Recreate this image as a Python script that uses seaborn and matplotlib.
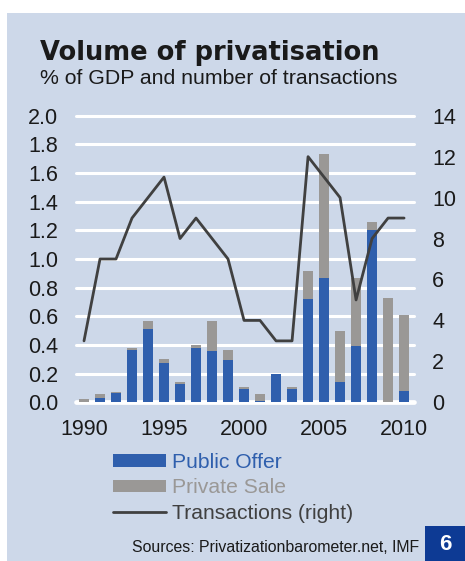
import numpy as np
import pandas as pd
import seaborn as sns
from matplotlib import pyplot as plt
from matplotlib.patches import Patch, Rectangle
from matplotlib.lines import Line2D

years = list(range(1990, 2011))
public_offer = [0.0, 0.03, 0.065, 0.365, 0.51, 0.275, 0.13, 0.38, 0.36, 0.295, 0.095,
                0.01, 0.2, 0.09, 0.72, 0.865, 0.14, 0.39, 1.205, 0.0, 0.08]
private_sale = [0.025, 0.025, 0.007, 0.015, 0.055, 0.025, 0.015, 0.02, 0.21, 0.07, 0.012,
                0.05, 0.0, 0.02, 0.195, 0.865, 0.36, 0.475, 0.05, 0.73, 0.53]
transactions = [3, 7, 7, 9, 10, 11, 8, 9, 8, 7, 4, 4, 3, 3, 12, 11, 10, 5, 8, 9, 9]

bg = '#CDD8E9'
blue = '#2F5FAD'
grey = '#9A9896'
dark = '#404040'

df = pd.DataFrame({'year': years, 'public': public_offer, 'private': private_sale,
                   'transactions': transactions})
df['total'] = df['public'] + df['private']

sns.set_style('white')
plt.rcParams['font.family'] = ['Liberation Sans', 'DejaVu Sans']

fig = plt.figure(figsize=(4.65, 5.61), dpi=100)
fig.patch.set_facecolor('white')
fig.add_artist(Rectangle((7 / 465, 0), 1, 1 - 12.7 / 561, transform=fig.transFigure,
                         facecolor=bg, edgecolor='none', zorder=-10))

ax = fig.add_axes([76 / 465, 1 - 402.3 / 561, (414 - 76) / 465, (402.3 - 115.7) / 561])
ax.set_facecolor('none')

# stacked bars: total in grey, public offer in blue on top of it
sns.barplot(data=df, x='year', y='total', native_scale=True, color=grey, width=0.63,
            saturation=1, linewidth=0, ax=ax, zorder=2)
sns.barplot(data=df, x='year', y='public', native_scale=True, color=blue, width=0.63,
            saturation=1, linewidth=0, ax=ax, zorder=3)

ax.set_xlim(1989.5, 2010.62)
ax.set_ylim(0, 2.0)
ax.set_yticks(np.arange(0, 2.01, 0.2))
ax.set_yticklabels([f'{v:.1f}' for v in np.arange(0, 2.01, 0.2)])
ax.set_xticks([1990, 1995, 2000, 2005, 2010])
ax.set_xticklabels(['1990', '1995', '2000', '2005', '2010'])
ax.tick_params(axis='both', length=0, labelsize=15.5, colors='#1a1a1a')
ax.tick_params(axis='y', pad=13)
ax.tick_params(axis='x', pad=12)
ax.set_xlabel('')
ax.set_ylabel('')
ax.grid(axis='y', color='white', linewidth=2.2)
ax.set_axisbelow(True)
for gl in ax.get_ygridlines():
    gl.set_clip_on(False)
ax.axhline(0, color='white', linewidth=3.4, zorder=1, clip_on=False)
for s in ax.spines.values():
    s.set_visible(False)

ax2 = ax.twinx()
sns.lineplot(data=df, x='year', y='transactions', color=dark, linewidth=2, ax=ax2)
ax2.set_ylim(0, 14)
ax2.set_yticks(range(0, 15, 2))
ax2.tick_params(axis='y', length=0, labelsize=15.5, colors='#1a1a1a', pad=13)
ax2.set_ylabel('')
for s in ax2.spines.values():
    s.set_visible(False)

fig.text(40 / 465, 1 - 60 / 561, 'Volume of privatisation', fontsize=18.5,
         fontweight='heavy', family=['DejaVu Sans'], color='#1a1a1a')
fig.text(40 / 465, 1 - 84 / 561, '% of GDP and number of transactions', fontsize=15.3,
         color='#1a1a1a')

handles = [Patch(facecolor=blue, edgecolor='none'),
           Patch(facecolor=grey, edgecolor='none'),
           Line2D([], [], color=dark, linewidth=2)]
leg = fig.legend(handles, ['Public Offer', 'Private Sale', 'Transactions (right)'],
                 loc='upper left', bbox_to_anchor=(113 / 465, 1 - 453 / 561),
                 frameon=False, fontsize=15.2, handlelength=2.5, handleheight=0.55,
                 handletextpad=0.3, labelspacing=0.3, borderpad=0, borderaxespad=0,
                 labelcolor=[blue, grey, dark])

fig.text(419 / 465, 1 - 548 / 561, 'Sources: Privatizationbarometer.net, IMF',
         fontsize=11.4, ha='right', va='center', color='#1a1a1a')
fig.add_artist(Rectangle((425 / 465, 0), 40 / 465, 35 / 561, transform=fig.transFigure,
                         facecolor='#0D3A94', edgecolor='none', zorder=1))
fig.text(445 / 465, 1 - 544 / 561, '6', fontsize=16, fontweight='bold', color='white',
         ha='center', va='center')

fig.savefig('out.png', dpi=100)
